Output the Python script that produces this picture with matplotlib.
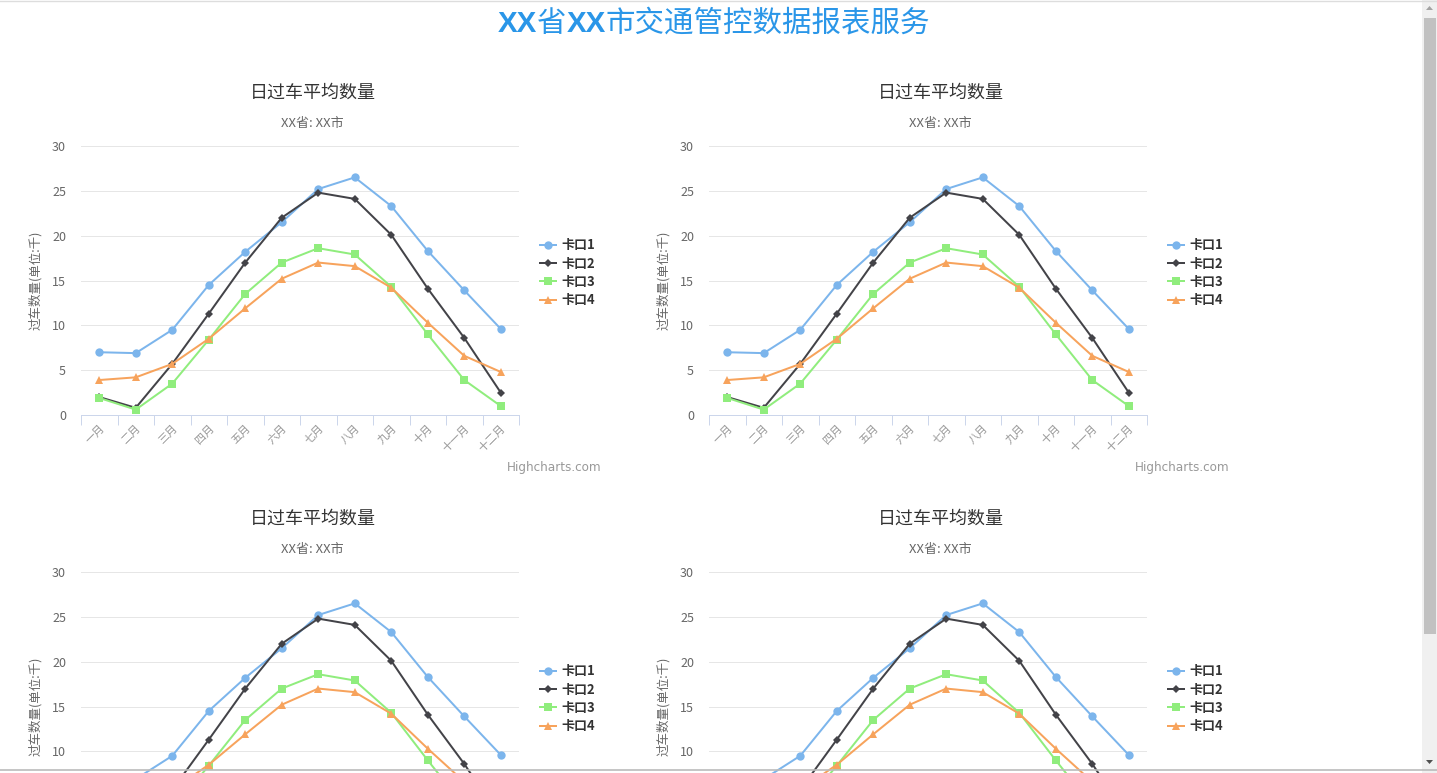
import matplotlib
matplotlib.use("Agg")
import matplotlib.pyplot as plt
from matplotlib.patches import Rectangle, Polygon
from matplotlib.lines import Line2D
from matplotlib.offsetbox import TextArea, HPacker, AnnotationBbox

plt.rcParams["font.family"] = ["Noto Sans CJK SC", "DejaVu Sans"]

# chart data
months = ["一月", "二月", "三月", "四月", "五月", "六月",
          "七月", "八月", "九月", "十月", "十一月", "十二月"]
series_names = ["卡口1", "卡口2", "卡口3", "卡口4"]
kakou1 = [7.0, 6.9, 9.5, 14.5, 18.2, 21.5, 25.2, 26.5, 23.3, 18.3, 13.9, 9.6]
kakou2 = [2.0, 0.8, 5.7, 11.3, 17.0, 22.0, 24.8, 24.1, 20.1, 14.1, 8.6, 2.5]
kakou3 = [1.9, 0.6, 3.5, 8.4, 13.5, 17.0, 18.6, 17.9, 14.3, 9.0, 3.9, 1.0]
kakou4 = [3.9, 4.2, 5.7, 8.5, 11.9, 15.2, 17.0, 16.6, 14.2, 10.3, 6.6, 4.8]
y_ticks = [0, 5, 10, 15, 20, 25, 30]

chart_title = "日过车平均数量"
chart_subtitle = "XX省: XX市"
y_title = "过车数量(单位:千)"

colors = ["#7cb5ec", "#434348", "#90ed7d", "#f7a35c"]
markers = ["o", "D", "s", "^"]
msizes = [6.0, 4.3, 5.8, 6.2]

W, H = 1437, 773
PX = 0.72  # points per pixel at dpi 100


def fx(px):
    return px / W


def fy(py):
    return 1 - py / H


def draw_chart(fig, dx, dy, cut_off=False):
    left, top, pw, ph = 81 + dx, 146 + dy, 438, 269
    ax = fig.add_axes([fx(left), fy(top + ph), pw / W, ph / H])
    xs = list(range(len(months)))
    for vals, name, c, m, ms in zip([kakou1, kakou2, kakou3, kakou4],
                                    series_names, colors, markers, msizes):
        ax.plot(xs, vals, color=c, lw=2 * PX, marker=m, ms=ms,
                markeredgewidth=0, label=name, clip_on=False, zorder=3)

    ax.set_xlim(-0.5, len(months) - 0.5)
    ax.set_ylim(0, 30)
    ax.set_yticks(y_ticks)
    if cut_off:
        # this row runs past the bottom of the page: low labels are not visible
        ax.set_yticklabels([str(t) if t >= 10 else "" for t in y_ticks])
    else:
        ax.set_yticklabels([str(t) for t in y_ticks])
    ax.grid(axis="y", color="#e6e6e6", lw=1 * PX)
    ax.set_axisbelow(True)
    for s in ["top", "right", "left"]:
        ax.spines[s].set_visible(False)
    ax.spines["bottom"].set_color("#ccd6eb")
    ax.spines["bottom"].set_linewidth(1 * PX)
    ax.tick_params(axis="y", length=0, pad=15 * PX, labelsize=12.5 * PX,
                   labelcolor="#666666")

    ax.set_xticks(xs)
    if cut_off:
        ax.set_xticklabels([])
    else:
        ax.set_xticklabels(months, rotation=45, ha="right", va="top",
                           rotation_mode="anchor", fontsize=11 * PX,
                           color="#999999")
    ax.tick_params(axis="x", which="major", length=0, pad=8 * PX)
    ax.set_xticks([x - 0.5 for x in range(len(months) + 1)], minor=True)
    ax.tick_params(axis="x", which="minor", length=10 * PX, width=1 * PX,
                   color="#ccd6eb", direction="out")

    leg = ax.legend(loc="center left", bbox_to_anchor=(1.047, 0.529),
                    frameon=False, handlelength=1.25, handletextpad=0.4,
                    labelspacing=0.33, borderpad=0, borderaxespad=0,
                    prop={"weight": "bold", "size": 13 * PX})
    for t in leg.get_texts():
        t.set_color("#333333")

    fig.text(fx(313 + dx), fy(93 + dy), chart_title, ha="center", va="center",
             fontsize=18 * PX, color="#333333")
    fig.text(fx(312 + dx), fy(124 + dy), chart_subtitle, ha="center",
             va="center", fontsize=13 * PX, color="#666666")
    fig.text(fx(35 + dx), fy(280 + dy), y_title, ha="center", va="center",
             rotation=90, fontsize=12.5 * PX, color="#666666")
    if not cut_off:
        fig.text(fx(602 + dx), fy(467 + dy), "Highcharts.com", ha="right",
                 va="center", fontsize=12 * PX, color="#999999",
                 family=["DejaVu Sans"])
    return ax


fig = plt.figure(figsize=(W / 100, H / 100), dpi=100)
fig.patch.set_facecolor("white")

for dx, dy in [(0, 0), (628, 0)]:
    draw_chart(fig, dx, dy)
for dx, dy in [(0, 426), (628, 426)]:
    draw_chart(fig, dx, dy, cut_off=True)

# page title: bold latin pieces, regular CJK pieces
blue = "#2a96e8"
pieces = [("XX", "bold"), ("省", "normal"), ("XX", "bold"),
          ("市交通管控数据报表服务", "normal")]
areas = []
for txt, wt in pieces:
    fam = ["Liberation Sans"] if wt == "bold" else ["Noto Sans CJK SC"]
    areas.append(TextArea(txt, textprops=dict(color=blue, fontsize=29.5 * PX,
                                              weight=wt, family=fam)))
pack = HPacker(children=areas, pad=0, sep=0, align="baseline")
ab = AnnotationBbox(pack, (fx(714), fy(23)), xycoords="figure fraction",
                    frameon=False, box_alignment=(0.5, 0.5))
fig.add_artist(ab)

# page borders and scrollbar
fig.add_artist(Line2D([0, 1], [fy(1), fy(1)], transform=fig.transFigure,
                      color="#dddddd", lw=1))
fig.add_artist(Line2D([0, 1], [fy(770), fy(770)], transform=fig.transFigure,
                      color="#bbbbbb", lw=1.2))
fig.add_artist(Rectangle((fx(1422), 0), 15 / W, 1, transform=fig.transFigure,
                         color="#f0f0f0", lw=0))
fig.add_artist(Rectangle((fx(1424), fy(634)), 12 / W, 616 / H,
                         transform=fig.transFigure, color="#c1c1c1", lw=0))
fig.add_artist(Polygon([(fx(1426), fy(10)), (fx(1433), fy(10)), (fx(1429.5), fy(6))],
                       transform=fig.transFigure, color="#a3a3a3", lw=0))
fig.add_artist(Polygon([(fx(1426), fy(760)), (fx(1433), fy(760)), (fx(1429.5), fy(764))],
                       transform=fig.transFigure, color="#505050", lw=0))

fig.savefig("out.png", dpi=100)
